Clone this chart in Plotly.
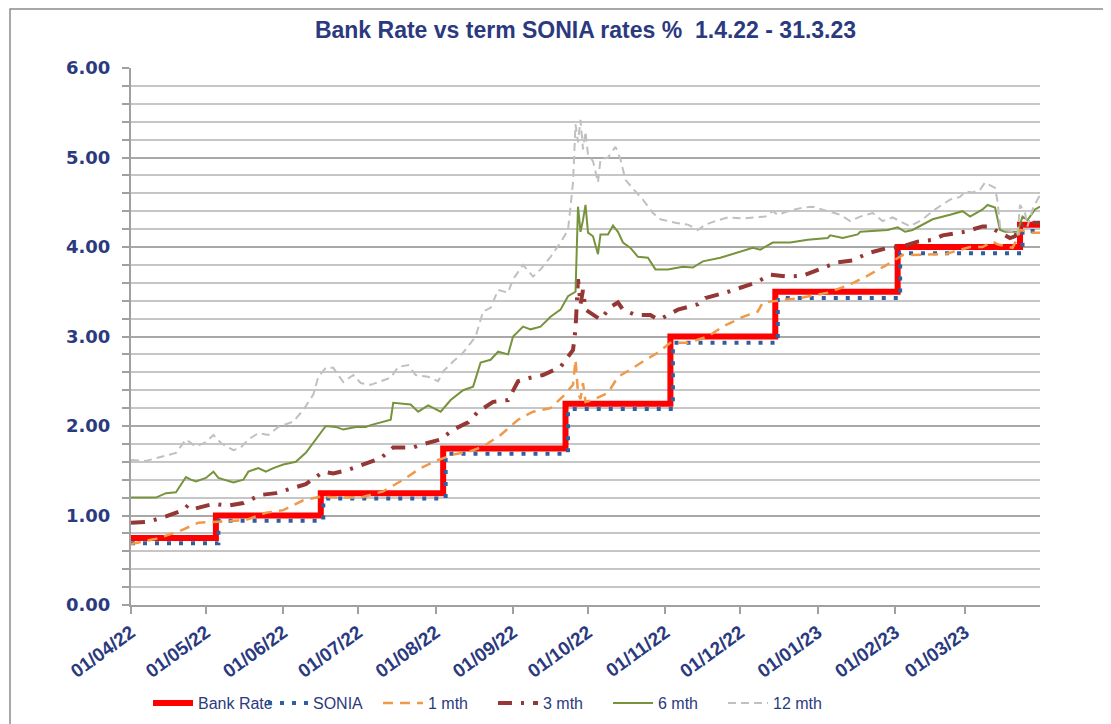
import plotly.graph_objects as go

# ---------------- data ----------------
bank_dates = ["2022-04-01", "2022-05-05", "2022-06-16", "2022-08-04", "2022-09-22",
              "2022-11-03", "2022-12-15", "2023-02-02", "2023-03-23", "2023-03-31"]
bank_rate = [0.75, 1.00, 1.25, 1.75, 2.25, 3.00, 3.50, 4.00, 4.25, 4.25]

sonia_dates = ["2022-04-01", "2022-05-06", "2022-06-17", "2022-08-05", "2022-09-23",
               "2022-11-04", "2022-12-16", "2023-02-03", "2023-03-24", "2023-03-31"]
sonia = [0.69, 0.94, 1.19, 1.69, 2.19, 2.93, 3.43, 3.93, 4.18, 4.18]

m1_dates = ["2022-04-01", "2022-04-11", "2022-04-20", "2022-04-28", "2022-05-06", "2022-05-17",
            "2022-05-25", "2022-06-01", "2022-06-09", "2022-06-16", "2022-06-24", "2022-07-02",
            "2022-07-11", "2022-07-19", "2022-07-26", "2022-08-02", "2022-08-08", "2022-08-15",
            "2022-08-20", "2022-08-27", "2022-09-03", "2022-09-09", "2022-09-16", "2022-09-21",
            "2022-09-25", "2022-09-26", "2022-09-27", "2022-09-28", "2022-09-29", "2022-09-30",
            "2022-10-03", "2022-10-06", "2022-10-09", "2022-10-13", "2022-10-18", "2022-10-23",
            "2022-10-29", "2022-11-03", "2022-11-10", "2022-11-18", "2022-11-24", "2022-12-02",
            "2022-12-08", "2022-12-10", "2022-12-25", "2023-01-05", "2023-01-13", "2023-01-21",
            "2023-01-28", "2023-02-04", "2023-02-21", "2023-03-03", "2023-03-08", "2023-03-12",
            "2023-03-14", "2023-03-20", "2023-03-22", "2023-03-23", "2023-03-28", "2023-03-31"]
m1 = [0.68, 0.74, 0.82, 0.92, 0.93, 0.95,
      1.03, 1.06, 1.17, 1.21, 1.20, 1.20,
      1.27, 1.40, 1.53, 1.62, 1.68, 1.72,
      1.77, 1.90, 2.07, 2.16, 2.20, 2.33,
      2.46, 2.74, 2.37, 2.30, 2.48, 2.27,
      2.29, 2.33, 2.37, 2.55, 2.63, 2.72,
      2.82, 2.93, 2.93, 3.00, 3.11, 3.22,
      3.28, 3.38, 3.43, 3.49, 3.57, 3.68,
      3.79, 3.91, 3.92, 4.00, 4.00, 4.06,
      4.03, 3.99, 4.10, 4.19, 4.16, 4.16]

m3_dates = ["2022-04-01", "2022-04-08", "2022-04-15", "2022-04-22", "2022-04-24", "2022-04-27",
            "2022-05-04", "2022-05-10", "2022-05-16", "2022-05-23", "2022-05-29", "2022-06-03",
            "2022-06-10", "2022-06-17", "2022-06-21", "2022-06-27", "2022-07-06", "2022-07-10",
            "2022-07-15", "2022-07-23", "2022-07-26", "2022-08-03", "2022-08-08", "2022-08-14",
            "2022-08-18", "2022-08-24", "2022-08-30", "2022-09-03", "2022-09-08", "2022-09-13",
            "2022-09-20", "2022-09-23", "2022-09-25", "2022-09-26", "2022-09-27", "2022-09-28",
            "2022-09-29", "2022-09-30", "2022-10-03", "2022-10-06", "2022-10-10", "2022-10-13",
            "2022-10-15", "2022-10-20", "2022-10-26", "2022-10-29", "2022-10-31", "2022-11-06",
            "2022-11-14", "2022-11-17", "2022-11-25", "2022-12-02", "2022-12-07", "2022-12-13",
            "2022-12-20", "2022-12-26", "2023-01-02", "2023-01-09", "2023-01-15", "2023-01-21",
            "2023-01-29", "2023-02-03", "2023-02-10", "2023-02-16", "2023-02-20", "2023-03-01",
            "2023-03-08", "2023-03-11", "2023-03-13", "2023-03-19", "2023-03-21", "2023-03-23",
            "2023-03-26", "2023-03-31"]
m3 = [0.92, 0.93, 0.99, 1.06, 1.12, 1.08,
      1.13, 1.11, 1.14, 1.23, 1.25, 1.29,
      1.35, 1.49, 1.47, 1.51, 1.60, 1.64,
      1.76, 1.76, 1.79, 1.85, 1.96, 2.04,
      2.16, 2.27, 2.29, 2.50, 2.54, 2.57,
      2.66, 2.77, 2.85, 3.08, 3.64, 3.36,
      3.52, 3.30, 3.24, 3.19, 3.33, 3.38,
      3.30, 3.24, 3.24, 3.19, 3.21, 3.30,
      3.36, 3.43, 3.49, 3.55, 3.60, 3.69,
      3.67, 3.68, 3.75, 3.83, 3.85, 3.93,
      3.99, 4.00, 4.06, 4.08, 4.13, 4.17,
      4.23, 4.23, 4.19, 4.10, 4.12, 4.23,
      4.27, 4.27]

m6_dates = ["2022-04-01", "2022-04-11", "2022-04-15", "2022-04-19", "2022-04-23", "2022-04-25",
            "2022-04-27", "2022-05-01", "2022-05-04", "2022-05-06", "2022-05-12", "2022-05-16",
            "2022-05-18", "2022-05-22", "2022-05-25", "2022-05-28", "2022-06-01", "2022-06-06",
            "2022-06-10", "2022-06-14", "2022-06-18", "2022-06-22", "2022-06-25", "2022-06-30",
            "2022-07-04", "2022-07-06", "2022-07-14", "2022-07-15", "2022-07-22", "2022-07-25",
            "2022-07-29", "2022-08-03", "2022-08-07", "2022-08-12", "2022-08-16", "2022-08-19",
            "2022-08-23", "2022-08-26", "2022-08-30", "2022-09-01", "2022-09-05", "2022-09-08",
            "2022-09-12", "2022-09-16", "2022-09-20", "2022-09-23", "2022-09-26", "2022-09-27",
            "2022-09-28", "2022-09-29", "2022-09-30", "2022-10-01", "2022-10-03", "2022-10-05",
            "2022-10-06", "2022-10-09", "2022-10-11", "2022-10-13", "2022-10-15", "2022-10-18",
            "2022-10-21", "2022-10-25", "2022-10-28", "2022-11-02", "2022-11-08", "2022-11-12",
            "2022-11-16", "2022-11-23", "2022-11-30", "2022-12-06", "2022-12-09", "2022-12-14",
            "2022-12-21", "2022-12-28", "2023-01-05", "2023-01-06", "2023-01-11", "2023-01-17",
            "2023-01-18", "2023-01-23", "2023-01-29", "2023-02-02", "2023-02-05", "2023-02-08",
            "2023-02-12", "2023-02-16", "2023-02-23", "2023-02-28", "2023-03-03", "2023-03-08",
            "2023-03-10", "2023-03-13", "2023-03-15", "2023-03-17", "2023-03-20", "2023-03-22",
            "2023-03-24", "2023-03-26", "2023-03-29", "2023-03-31"]
m6 = [1.20, 1.20, 1.25, 1.26, 1.43, 1.40,
      1.38, 1.42, 1.49, 1.42, 1.37, 1.40,
      1.49, 1.53, 1.49, 1.53, 1.57, 1.60,
      1.70, 1.85, 2.00, 1.99, 1.96, 1.99,
      1.99, 2.01, 2.07, 2.26, 2.24, 2.16,
      2.23, 2.16, 2.29, 2.40, 2.44, 2.71,
      2.74, 2.83, 2.80, 3.00, 3.11, 3.08,
      3.11, 3.22, 3.30, 3.45, 3.50, 4.45,
      4.17, 4.30, 4.47, 4.16, 4.12, 3.92,
      4.14, 4.14, 4.24, 4.17, 4.05, 3.99,
      3.89, 3.88, 3.75, 3.75, 3.78, 3.77,
      3.84, 3.88, 3.94, 3.99, 3.97, 4.05,
      4.05, 4.08, 4.10, 4.13, 4.10, 4.14,
      4.17, 4.18, 4.19, 4.22, 4.17, 4.19,
      4.25, 4.31, 4.36, 4.40, 4.34, 4.42,
      4.47, 4.44, 4.19, 4.17, 4.17, 4.17,
      4.34, 4.30, 4.42, 4.45]

m12_dates = ["2022-04-01", "2022-04-07", "2022-04-11", "2022-04-19", "2022-04-23", "2022-04-27",
             "2022-05-01", "2022-05-04", "2022-05-07", "2022-05-12", "2022-05-15", "2022-05-18",
             "2022-05-22", "2022-05-26", "2022-05-30", "2022-06-05", "2022-06-09", "2022-06-13",
             "2022-06-15", "2022-06-18", "2022-06-21", "2022-06-25", "2022-06-29", "2022-07-02",
             "2022-07-06", "2022-07-10", "2022-07-14", "2022-07-17", "2022-07-21", "2022-07-24",
             "2022-07-29", "2022-08-02", "2022-08-04", "2022-08-08", "2022-08-12", "2022-08-17",
             "2022-08-20", "2022-08-23", "2022-08-26", "2022-08-30", "2022-09-01", "2022-09-05",
             "2022-09-09", "2022-09-12", "2022-09-16", "2022-09-20", "2022-09-23", "2022-09-25",
             "2022-09-26", "2022-09-27", "2022-09-28", "2022-09-29", "2022-09-30", "2022-10-01",
             "2022-10-03", "2022-10-05", "2022-10-06", "2022-10-09", "2022-10-12", "2022-10-14",
             "2022-10-16", "2022-10-20", "2022-10-23", "2022-10-27", "2022-10-30", "2022-11-05",
             "2022-11-10", "2022-11-14", "2022-11-17", "2022-11-21", "2022-11-26", "2022-12-02",
             "2022-12-07", "2022-12-11", "2022-12-14", "2022-12-16", "2022-12-20", "2022-12-26",
             "2022-12-30", "2023-01-03", "2023-01-10", "2023-01-14", "2023-01-18", "2023-01-23",
             "2023-01-27", "2023-01-31", "2023-02-04", "2023-02-07", "2023-02-12", "2023-02-17",
             "2023-02-23", "2023-02-27", "2023-03-01", "2023-03-04", "2023-03-07", "2023-03-09",
             "2023-03-13", "2023-03-14", "2023-03-15", "2023-03-17", "2023-03-20", "2023-03-22",
             "2023-03-23", "2023-03-25", "2023-03-26", "2023-03-28", "2023-03-30", "2023-03-31"]
m12 = [1.62, 1.61, 1.64, 1.70, 1.85, 1.77,
       1.82, 1.90, 1.81, 1.73, 1.76, 1.85,
       1.92, 1.90, 1.99, 2.05, 2.18, 2.35,
       2.55, 2.65, 2.65, 2.49, 2.57, 2.48,
       2.46, 2.50, 2.54, 2.66, 2.68, 2.57,
       2.55, 2.50, 2.61, 2.72, 2.82, 3.00,
       3.28, 3.32, 3.52, 3.49, 3.64, 3.80,
       3.67, 3.75, 3.89, 4.05, 4.19, 4.72,
       5.37, 5.17, 5.42, 5.09, 5.29, 5.03,
       4.96, 4.72, 4.98, 5.00, 5.12, 4.98,
       4.75, 4.62, 4.53, 4.38, 4.31, 4.27,
       4.25, 4.19, 4.25, 4.29, 4.33, 4.32,
       4.33, 4.34, 4.40, 4.36, 4.40, 4.44,
       4.45, 4.42, 4.36, 4.29, 4.34, 4.38,
       4.29, 4.33, 4.27, 4.23, 4.31, 4.42,
       4.53, 4.56, 4.62, 4.61, 4.64, 4.72,
       4.66, 4.51, 4.23, 4.19, 4.17, 4.14,
       4.47, 4.38, 4.23, 4.42, 4.53, 4.58]

y_ticks = [0, 1, 2, 3, 4, 5, 6]
y_labels = ["0.00", "1.00", "2.00", "3.00", "4.00", "5.00", "6.00"]

# ---------------- figure ----------------
NAVY = "#2B3A7E"
SANS = "Liberation Sans, Arial, sans-serif"
fig = go.Figure()

fig.add_trace(go.Scatter(x=bank_dates, y=bank_rate, name="Bank Rate", mode="lines",
                         line=dict(color="#FF0000", width=6, shape="hv")))
fig.add_trace(go.Scatter(x=sonia_dates, y=sonia, name="SONIA", mode="lines",
                         line=dict(color="#2F5F9E", width=4, shape="hv", dash="4px,8px")))
fig.add_trace(go.Scatter(x=m1_dates, y=m1, name="1 mth", mode="lines",
                         line=dict(color="#F0994A", width=2.5, dash="10px,7px")))
fig.add_trace(go.Scatter(x=m3_dates, y=m3, name="3 mth", mode="lines",
                         line=dict(color="#953735", width=4, dash="14px,9px,3px,9px")))
fig.add_trace(go.Scatter(x=m6_dates, y=m6, name="6 mth", mode="lines",
                         line=dict(color="#77933C", width=2)))
fig.add_trace(go.Scatter(x=m12_dates, y=m12, name="12 mth", mode="lines",
                         line=dict(color="#C0C0C0", width=2, dash="8px,5px")))

# the page body adds an 8px offset, so margins are shifted to compensate
L, T = 123, 60
PW, PH = 909, 537
W, H = 1111, 724
R = W - L - PW
B = H - T - PH


def px(xp):
    return (xp - 131) / PW


def py(yp):
    return (605 - yp) / PH


fig.update_layout(
    width=W, height=H,
    margin=dict(l=L, r=R, t=T, b=B, autoexpand=False),
    paper_bgcolor="white", plot_bgcolor="white",
    title=dict(text="Bank Rate vs term SONIA rates %  1.4.22 - 31.3.23",
               x=0.5, xref="paper", xanchor="center",
               y=1 - 22 / H, yref="container", yanchor="middle",
               font=dict(family=SANS, size=23, color=NAVY, weight="bold")),
    legend=dict(orientation="h", x=px(148), xanchor="left",
                y=py(703), yanchor="middle",
                font=dict(family=SANS, size=16, color=NAVY),
                itemwidth=40, entrywidth=60, bgcolor="rgba(0,0,0,0)", traceorder="normal"),
    showlegend=True,
)

fig.update_xaxes(
    type="date", range=["2022-04-01", "2023-03-31"], automargin=False,
    tick0="2022-04-01", dtick="M1", tickformat="%d/%m/%y",
    tickangle=-36, ticks="outside", ticklen=7, tickcolor="#A0A0A0", tickwidth=1.5,
    showline=True, linecolor="#A0A0A0", linewidth=2,
    showgrid=False, zeroline=False,
    tickfont=dict(family=SANS, size=19, color=NAVY, weight="bold"),
)
fig.update_yaxes(
    range=[0, 6], tickvals=y_ticks, ticktext=y_labels, automargin=False,
    ticks="outside", ticklen=7, tickcolor="#A0A0A0", tickwidth=1.5,
    showline=True, linecolor="#A0A0A0", linewidth=2,
    showgrid=True, gridcolor="#A8A8A8", gridwidth=2, zeroline=False,
    minor=dict(dtick=0.2, showgrid=True, gridcolor="#C6C6C6", gridwidth=2,
               ticks="outside", ticklen=7, tickcolor="#A0A0A0"),
    ticklabelstandoff=8,
    tickfont=dict(family="DejaVu Sans, Verdana", size=18, color=NAVY, weight="bold"),
)

# outer chart-area frame
fig.add_shape(type="rect", xref="paper", yref="paper",
              x0=px(10), x1=px(1125), y0=py(740), y1=py(9),
              line=dict(color="#8C8C8C", width=1.5), fillcolor="rgba(0,0,0,0)", layer="below")

fig.write_html("out.html")
